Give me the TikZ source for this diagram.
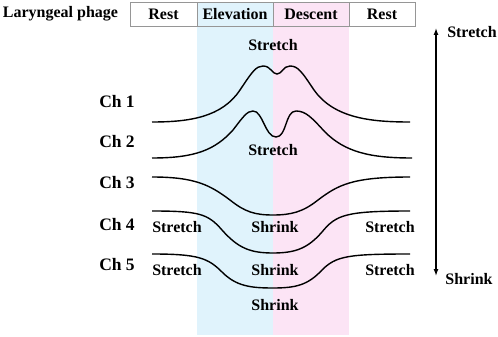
\documentclass[tikz,border=0pt]{standalone}
\usepackage{fontspec}
\setmainfont{Liberation Serif}
\definecolor{elevBlue}{RGB}{224,243,252}
\definecolor{descPink}{RGB}{252,228,245}
\definecolor{boxGray}{RGB}{150,150,150}
\usetikzlibrary{positioning,arrows.meta,backgrounds}
\tikzset{
  phasebox/.style={rectangle,draw=boxGray,line width=0.9pt,fill=#1,
    minimum height=24pt,inner sep=0pt,outer sep=0pt,
    font=\fontsize{16}{18}\selectfont\bfseries},
  phasebox/.default=white,
  lbl/.style={inner sep=0pt,font=\fontsize{16}{18}\selectfont\bfseries},
  chlbl/.style={inner sep=0pt,font=\fontsize{17.5}{20}\selectfont\bfseries},
  wave/.style={line width=1.4pt,black},
  scalearrow/.style={{Latex[length=7pt,width=5pt]}-{Latex[length=7pt,width=5pt]},line width=1.3pt}
}
\begin{document}
\begin{tikzpicture}[x=1pt,y=-1pt]
  \useasboundingbox (0,0) rectangle (498,337);

  % phase header
  \node[lbl] (title) at (60.5,14) {Laryngeal phage};
  \node[phasebox, minimum width=67pt] (rest1) at (163.5,14) {Rest};
  \node[phasebox=elevBlue, minimum width=76pt, right=0pt of rest1] (elev) {Elevation};
  \node[phasebox=descPink, minimum width=76pt, right=0pt of elev] (desc) {Descent};
  \node[phasebox, minimum width=66pt, right=0pt of desc] (rest2) {Rest};

  \begin{scope}[on background layer]
    \fill[elevBlue] (elev.south west) rectangle (elev.south east |- 0,335);
    \fill[descPink] (desc.south west) rectangle (desc.south east |- 0,335);
  \end{scope}

  % channel labels
  \node[chlbl] (ch1) at (117,102) {Ch 1};
  \node[chlbl] (ch2) at (117,142) {Ch 2};
  \node[chlbl] (ch3) at (117,183) {Ch 3};
  \node[chlbl] (ch4) at (117,225) {Ch 4};
  \node[chlbl] (ch5) at (117,265) {Ch 5};

  % waveforms
  \draw[wave] (152,122) .. controls (190,122) and (222,117) .. (240,90)
    .. controls (252,72) and (256,66) .. (263,66)
    .. controls (271,66) and (272,74) .. (277,74)
    .. controls (282,74) and (283,66) .. (290,66)
    .. controls (298,66) and (302,72) .. (314,90)
    .. controls (334,118) and (370,122) .. (410,122);
  \draw[wave] (152,158) .. controls (195,158) and (215,150) .. (233,130)
    .. controls (243,117) and (247,111) .. (253,111)
    .. controls (263,111) and (265,137) .. (276,137)
    .. controls (287,137) and (285,111) .. (296,111)
    .. controls (306,111) and (312,118) .. (325,132)
    .. controls (345,152) and (370,158) .. (412,158);
  \draw[wave] (152,177) .. controls (195,177) and (210,185) .. (230,200)
    .. controls (245,212) and (255,215) .. (273,215)
    .. controls (291,215) and (303,212) .. (318,200)
    .. controls (338,185) and (352,177) .. (410,177);
  \draw[wave] (152,211) .. controls (200,211) and (208,214) .. (222,230)
    .. controls (238,248) and (250,253) .. (273,253)
    .. controls (296,253) and (308,248) .. (322,232)
    .. controls (336,215) and (345,211) .. (410,211);
  \draw[wave] (152,254) .. controls (198,254) and (208,258) .. (222,272)
    .. controls (236,286) and (250,288) .. (273,288)
    .. controls (296,288) and (308,285) .. (322,270)
    .. controls (336,256) and (348,254) .. (410,254);

  % state labels
  \node[lbl] (s1) at (273,45) {Stretch};
  \node[lbl] (s2) at (273,150) {Stretch};
  \node[lbl] (s4l) at (177,227) {Stretch};
  \node[lbl] (k4) at (275,227) {Shrink};
  \node[lbl] (s4r) at (390,227) {Stretch};
  \node[lbl] (s5l) at (177,270) {Stretch};
  \node[lbl] (k5) at (275,270) {Shrink};
  \node[lbl] (s5r) at (390,270) {Stretch};
  \node[lbl] (k6) at (275,305) {Shrink};

  % stretch/shrink scale
  \coordinate (top) at (436,28);
  \coordinate (bot) at (436,276);
  \draw[scalearrow] (top) -- (bot);
  \node[lbl] (stretchEnd) at (472,32) {Stretch};
  \node[lbl] (shrinkEnd) at (469,279) {Shrink};
\end{tikzpicture}
\end{document}
